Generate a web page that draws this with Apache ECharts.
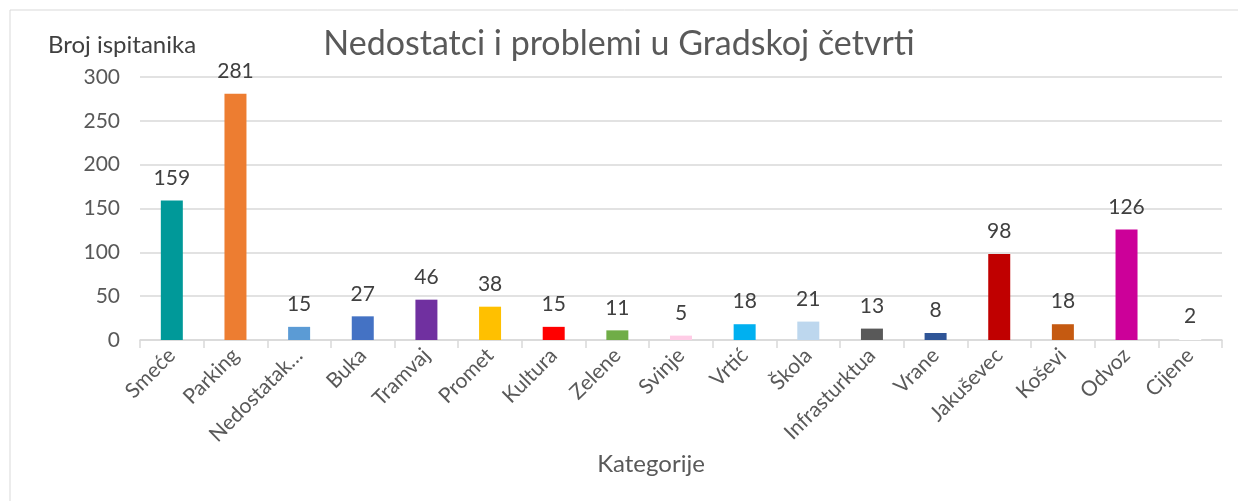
<!DOCTYPE html>
<html>
<head>
<meta charset="utf-8">
<script src="https://cdn.jsdelivr.net/npm/echarts@6/dist/echarts.min.js"></script>
<style>
  html, body { margin: 0; padding: 0; background: #fff; }
  #chart { width: 1238px; height: 501px; }
</style>
</head>
<body>
<div id="chart"></div>
<script>
// kategorije i broj ispitanika
var categories = ['Smeće', 'Parking', 'Nedostatak…', 'Buka', 'Tramvaj', 'Promet', 'Kultura', 'Zelene',
  'Svinje', 'Vrtić', 'Škola', 'Infrasturktua', 'Vrane', 'Jakuševec', 'Koševi', 'Odvoz', 'Cijene'];
var counts = [159, 281, 15, 27, 46, 38, 15, 11, 5, 18, 21, 13, 8, 98, 18, 126, 2];
var yTicks = [0, 50, 100, 150, 200, 250, 300];

// boje stupaca
var palette = ['#009999', '#ED7D31', '#5B9BD5', '#4472C4', '#7030A0', '#FFC000', '#FF0000', '#70AD47',
  '#FFCCE6', '#00B0F0', '#BDD7EE', '#595959', '#2F5597', '#C00000', '#C55A11', '#CC0099', '#FFFFFF'];

var font = 'Lato, "Open Sans", sans-serif';
var chart = echarts.init(document.getElementById('chart'));

var option = {
  animation: false,
  textStyle: { fontFamily: font },
  graphic: [{
    type: 'rect',
    shape: { x: 10, y: 10, width: 1240, height: 500 },
    style: { fill: 'none', stroke: '#d9d9d9', lineWidth: 1 },
    silent: true
  }],
  title: {
    text: 'Nedostatci i problemi u Gradskoj četvrti',
    left: 'center',
    top: 22,
    textStyle: { fontFamily: font, fontSize: 34, fontWeight: 'normal', color: '#595959' }
  },
  grid: { left: 140, right: 16, top: 77, bottom: 161 },
  xAxis: {
    type: 'category',
    data: categories,
    name: 'Kategorije',
    nameLocation: 'middle',
    nameGap: 110,
    nameTextStyle: { fontFamily: font, fontSize: 24, color: '#595959', padding: [0, 60, 0, 0] },
    axisLine: { lineStyle: { color: '#d9d9d9', width: 1.5 } },
    axisTick: { show: true, length: 8, lineStyle: { color: '#d9d9d9', width: 1.5 } },
    axisLabel: { rotate: 45, fontSize: 21, color: '#595959', margin: 12, interval: 0 }
  },
  yAxis: {
    type: 'value',
    min: yTicks[0],
    max: yTicks[yTicks.length - 1],
    interval: yTicks[1] - yTicks[0],
    name: 'Broj ispitanika',
    nameLocation: 'end',
    nameGap: 20,
    nameTextStyle: { fontFamily: font, fontSize: 24, color: '#404040', align: 'center', padding: [0, 0, 0, -36] },
    axisLine: { show: false },
    axisTick: { show: false },
    axisLabel: { fontSize: 21, color: '#595959', margin: 20 },
    splitLine: { lineStyle: { color: '#d9d9d9', width: 1.5 } }
  },
  series: [{
    type: 'bar',
    barWidth: 22,
    data: counts.map(function (v, i) {
      return { value: v, itemStyle: { color: palette[i] } };
    }),
    label: {
      show: true,
      position: 'top',
      distance: 12,
      fontSize: 21,
      color: '#404040'
    }
  }]
};

chart.setOption(option);
</script>
</body>
</html>
